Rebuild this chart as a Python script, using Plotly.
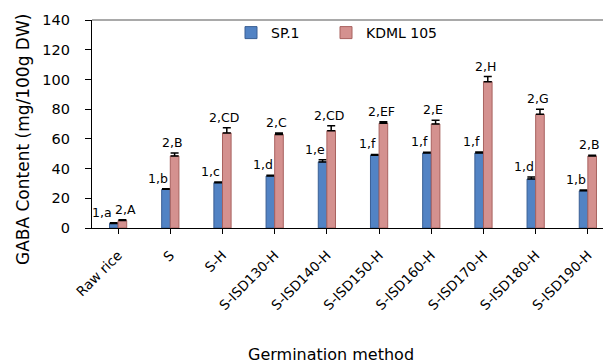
import plotly.graph_objects as go

categories = ["Raw rice", "S", "S-H", "S-ISD130-H", "S-ISD140-H", "S-ISD150-H",
              "S-ISD160-H", "S-ISD170-H", "S-ISD180-H", "S-ISD190-H"]
sp1_values = [3, 26, 30.5, 35, 44.5, 49, 50.5, 50.5, 33, 25]
sp1_err = [0.5, 0.5, 0.5, 0.5, 1.5, 0.5, 0.5, 0.7, 1.3, 0.5]
sp1_labels = ["1,a", "1,b", "1,c", "1,d", "1,e", "1,f", "1,f", "1,f", "1,d", "1,b"]
kdml_values = [5, 48.5, 64, 63, 65.5, 70.5, 70, 98.5, 76.5, 48.5]
kdml_err = [0.5, 2, 3.5, 1, 3.3, 1, 2.5, 3.4, 3.5, 0.5]
kdml_labels = ["2,A", "2,B", "2,CD", "2,C", "2,CD", "2,EF", "2,E", "2,H", "2,G", "2,B"]
y_ticks = [0, 20, 40, 60, 80, 100, 120, 140]

FONT = "DejaVu Sans"
W, H = 603, 363
L, R, T, B = 92, 0, 20, 135
pw = W - L - R
ph = H - T - B


def px_x(p):
    return (p - L) / pw


def px_y(p):
    return (H - B - p) / ph


fig = go.Figure()
fig.add_trace(go.Bar(
    x=categories, y=sp1_values, name="SP.1",
    marker=dict(color="#5283C4", line=dict(color="#3A5F94", width=1)),
    error_y=dict(type="data", symmetric=False, array=sp1_err,
                 arrayminus=[0] * len(sp1_err), color="black", thickness=1.5, width=4),
))
fig.add_trace(go.Bar(
    x=categories, y=kdml_values, name="KDML 105",
    marker=dict(color="#D4918F", line=dict(color="#A8625F", width=1)),
    error_y=dict(type="data", symmetric=False, array=kdml_err,
                 arrayminus=[0] * len(kdml_err), color="black", thickness=1.5, width=4),
    legend="legend2",
))

label_font = dict(family=FONT, size=12.5, color="black")
annotations = []
for c, v1, e1, t1, v2, e2, t2 in zip(categories, sp1_values, sp1_err, sp1_labels,
                                      kdml_values, kdml_err, kdml_labels):
    close = abs((v2 + e2) - (v1 + e1)) < 8  # labels at similar height: push apart
    annotations.append(dict(x=c, y=v1 + e1, text=t1, showarrow=False,
                            xshift=-16 if close else -12, yshift=1,
                            yanchor="bottom", font=label_font))
    annotations.append(dict(x=c, y=v2 + e2, text=t2, showarrow=False,
                            xshift=7 if close else 2, yshift=1,
                            yanchor="bottom", font=label_font))
annotations.append(dict(xref="paper", yref="paper", x=px_x(23), y=px_y(140),
                        text="GABA Content (mg/100g DW)", textangle=-90, showarrow=False,
                        xanchor="center", yanchor="middle",
                        font=dict(family=FONT, size=17, color="black")))
annotations.append(dict(xref="paper", yref="paper", x=px_x(331), y=px_y(354),
                        text="Germination method", showarrow=False,
                        xanchor="center", yanchor="middle",
                        font=dict(family=FONT, size=16, color="black")))

legend_font = dict(family=FONT, size=14, color="black")
fig.update_layout(
    width=W, height=H,
    margin=dict(l=L, r=R, t=T, b=B, autoexpand=False),
    paper_bgcolor="white", plot_bgcolor="white",
    barmode="group", bargap=0.67, bargroupgap=0,
    font=dict(family=FONT, color="black"),
    annotations=annotations,
    showlegend=True,
    legend=dict(orientation="h", x=px_x(231), y=px_y(33), xanchor="left", yanchor="middle",
                font=legend_font, bgcolor="rgba(0,0,0,0)"),
    legend2=dict(orientation="h", x=px_x(326), y=px_y(33), xanchor="left", yanchor="middle",
                 font=legend_font, bgcolor="rgba(0,0,0,0)"),
    shapes=[dict(type="line", xref="paper", yref="paper", x0=0, x1=1, y0=1, y1=1,
                 line=dict(color="#8C8C8C", width=1.5))],
)
fig.update_xaxes(
    range=[-0.5, 9.29], tickangle=-45, ticks="outside", ticklen=5, tickcolor="black",
    showline=True, linecolor="black", linewidth=1.2, showgrid=False, automargin=False,
    tickfont=dict(family=FONT, size=13.5, color="black"), ticklabelstandoff=8,
)
fig.update_yaxes(
    range=[0, 140], tickvals=y_ticks, ticks="outside", ticklen=6, tickcolor="black",
    showline=True, linecolor="black", linewidth=1.2, showgrid=False, zeroline=False,
    automargin=False,
    tickfont=dict(family=FONT, size=14.5, color="black"), ticklabelstandoff=12,
)

fig.write_html("out.html", config={"displayModeBar": False},
               post_script="document.body.style.margin='0';")
